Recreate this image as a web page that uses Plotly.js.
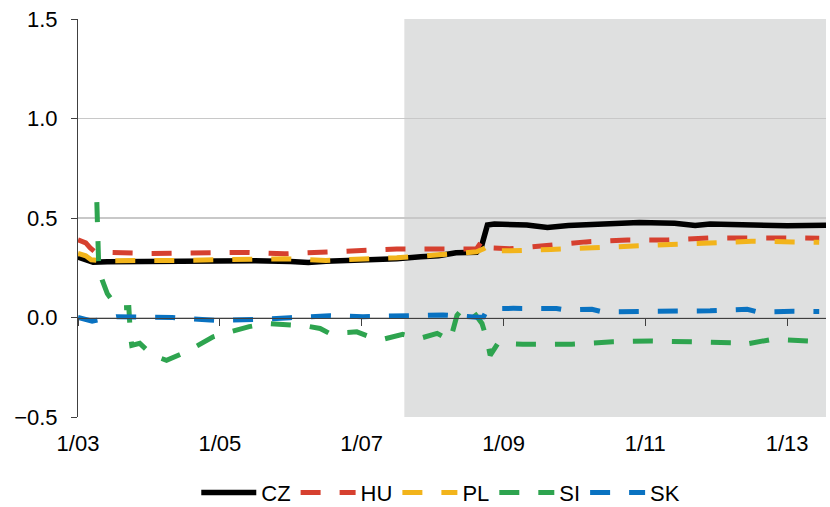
<!DOCTYPE html>
<html>
<head>
<meta charset="utf-8">
<script src="https://cdn.plot.ly/plotly-3.0.1.min.js"></script>
<style>html,body{margin:0;padding:0;background:#fff;}#chart{width:830px;height:507px;}</style>
</head>
<body>
<div id="chart"></div>
<script>
const czDates = ['2003-01-01','2003-02-15','2003-03-20','2003-06-01','2004-01-01','2004-07-01','2005-01-01','2005-07-01','2006-01-01','2006-04-01','2006-07-01','2007-01-01','2007-07-01','2007-11-01','2008-02-01','2008-05-01','2008-08-15','2008-09-10','2008-09-25','2008-10-10','2008-11-15','2009-05-01','2009-08-15','2009-12-01','2010-06-01','2010-12-01','2011-06-01','2011-09-15','2011-12-01','2012-06-01','2013-01-01','2013-07-20'];
const czValues = [0.303,0.29,0.278,0.28,0.282,0.283,0.283,0.285,0.281,0.276,0.283,0.287,0.295,0.305,0.31,0.325,0.328,0.36,0.42,0.465,0.47,0.465,0.452,0.462,0.47,0.478,0.474,0.462,0.47,0.465,0.461,0.463];

const huDates = ['2003-01-01','2003-02-10','2003-03-05','2003-04-01','2004-01-01','2005-01-01','2005-05-15','2005-12-01','2006-07-01','2006-12-01','2007-07-01','2008-02-01','2008-08-15','2008-09-15','2008-10-15','2009-02-01','2009-09-01','2010-03-01','2010-10-01','2011-05-01','2011-12-01','2012-07-01','2013-02-01','2013-06-15'];
const huValues = [0.39,0.375,0.35,0.328,0.322,0.322,0.327,0.32,0.33,0.34,0.344,0.344,0.345,0.39,0.35,0.345,0.365,0.38,0.39,0.39,0.40,0.403,0.40,0.398];

const plDates = ['2003-01-01','2003-02-10','2003-03-10','2003-05-01','2004-06-01','2005-06-01','2005-12-01','2006-07-01','2006-12-01','2007-07-01','2008-02-01','2008-08-15','2008-09-20','2008-10-10','2008-11-01','2009-02-01','2009-09-01','2010-05-01','2010-10-01','2011-05-01','2011-12-01','2012-07-01','2013-02-01','2013-06-15'];
const plValues = [0.322,0.31,0.29,0.285,0.287,0.29,0.295,0.287,0.29,0.30,0.315,0.33,0.345,0.357,0.335,0.335,0.342,0.352,0.357,0.362,0.374,0.383,0.38,0.378];

const siDates = ['2003-04-08','2003-04-18','2003-05-05','2003-06-01','2003-07-25','2003-09-20','2003-09-28','2003-10-05','2003-11-15','2004-01-20','2004-04-01','2004-06-25','2004-09-10','2004-11-27','2005-03-01','2005-06-01','2005-09-01','2005-12-28','2006-03-24','2006-06-01','2006-07-20','2006-12-07','2007-02-13','2007-04-19','2007-08-01','2007-10-28','2008-01-25','2008-04-01','2008-05-06','2008-06-06','2008-07-21','2008-09-12','2008-10-09','2008-10-24','2008-12-03','2009-04-10','2009-12-19','2010-07-18','2011-01-27','2011-09-01','2012-03-22','2012-05-01','2012-10-21','2013-05-15','2013-07-15'];
const siValues = [0.58,0.25,0.19,0.12,0.048,0.05,-0.09,-0.14,-0.13,-0.19,-0.215,-0.18,-0.14,-0.097,-0.07,-0.046,-0.03,-0.038,-0.043,-0.055,-0.08,-0.072,-0.097,-0.11,-0.085,-0.105,-0.08,-0.115,0.01,0.046,0.04,-0.03,-0.115,-0.19,-0.13,-0.135,-0.134,-0.122,-0.118,-0.122,-0.127,-0.139,-0.109,-0.119,-0.12];

const skDates = ['2003-01-01','2003-03-15','2003-07-19','2004-05-01','2004-12-15','2005-04-28','2005-07-25','2005-12-28','2006-07-20','2007-01-08','2007-06-10','2008-02-24','2008-08-17','2008-09-20','2008-10-01','2008-11-15','2009-02-20','2009-10-01','2009-11-15','2010-04-01','2010-05-27','2010-10-01','2011-05-01','2011-12-01','2012-06-09','2012-08-01','2013-02-01','2013-06-15'];
const skValues = [0.0,-0.018,0.004,0.0,-0.015,-0.015,-0.009,-0.001,0.009,0.004,0.009,0.013,0.001,0.003,0.025,0.045,0.046,0.045,0.038,0.041,0.028,0.03,0.028,0.034,0.041,0.028,0.031,0.03];

const seriesNames = ['CZ','HU','PL','SI','SK'];
const seriesColors = ['#000000','#d6402f','#f2b41b','#2ea44f','#0972c1'];
const crisisStart = '2007-08-09';
const xStart = '2003-01-01';
const xEnd = '2013-07-20';

const allDates = [czDates, huDates, plDates, siDates, skDates];
const allValues = [czValues, huValues, plValues, siValues, skValues];

const traces = seriesNames.map((name, i) => ({
  type: 'scatter',
  mode: 'lines',
  name: name,
  x: allDates[i],
  y: allValues[i],
  xaxis: 'x',
  yaxis: 'y',
  line: {
    color: seriesColors[i],
    width: i === 0 ? 5.5 : 5,
    dash: i === 0 ? 'solid' : '20px,19px'
  },
  hoverinfo: 'skip'
}));

const font = {family: 'Liberation Sans, Arial, sans-serif', size: 22, color: '#000'};

const layout = {
  width: 830,
  height: 507,
  margin: {l: 78, r: 4, t: 19, b: 90, autoexpand: false},
  paper_bgcolor: '#ffffff',
  plot_bgcolor: '#ffffff',
  font: font,
  showlegend: true,
  legend: {
    orientation: 'h',
    x: 0.485, xanchor: 'center',
    yref: 'container',
    y: 0.028, yanchor: 'middle',
    font: font,
    itemwidth: 55,
    tracegroupgap: 0
  },
  xaxis: {
    type: 'date',
    range: [xStart, xEnd],
    tick0: xStart,
    dtick: 'M24',
    tickformat: '%-m/%y',
    showgrid: false,
    zeroline: false,
    showline: false,
    ticks: '',
    automargin: false,
    ticklabelstandoff: 11,
    tickfont: font
  },
  xaxis2: {
    type: 'date',
    overlaying: 'x',
    anchor: 'free',
    position: 0.25,
    range: [xStart, xEnd],
    tick0: xStart,
    dtick: 'M24',
    showgrid: false,
    zeroline: false,
    showline: true,
    linecolor: '#404040',
    linewidth: 1.2,
    ticks: 'outside',
    ticklen: 7,
    tickcolor: '#404040',
    automargin: false,
    showticklabels: false
  },
  yaxis: {
    range: [-0.5, 1.5],
    dtick: 0.5,
    tick0: 0,
    tickformat: '.1f',
    showgrid: true,
    gridcolor: '#c8c8c8',
    gridwidth: 1.2,
    zeroline: false,
    showline: true,
    linecolor: '#404040',
    ticks: 'outside',
    ticklen: 6,
    tickcolor: '#404040',
    automargin: false,
    ticklabelstandoff: 9,
    tickfont: font
  },
  shapes: [{
    type: 'rect',
    xref: 'x', yref: 'paper',
    x0: crisisStart, x1: xEnd,
    y0: 0, y1: 1,
    fillcolor: '#dfe0e0',
    line: {width: 0},
    layer: 'between'
  }]
};

// invisible trace so the zero-crossing axis (xaxis2) is rendered
traces.push({type:'scatter', mode:'none', x:[xStart], y:[0], xaxis:'x2', yaxis:'y', showlegend:false, hoverinfo:'skip'});

Plotly.newPlot('chart', traces, layout, {staticPlot: true, displayModeBar: false});
</script>
</body>
</html>
